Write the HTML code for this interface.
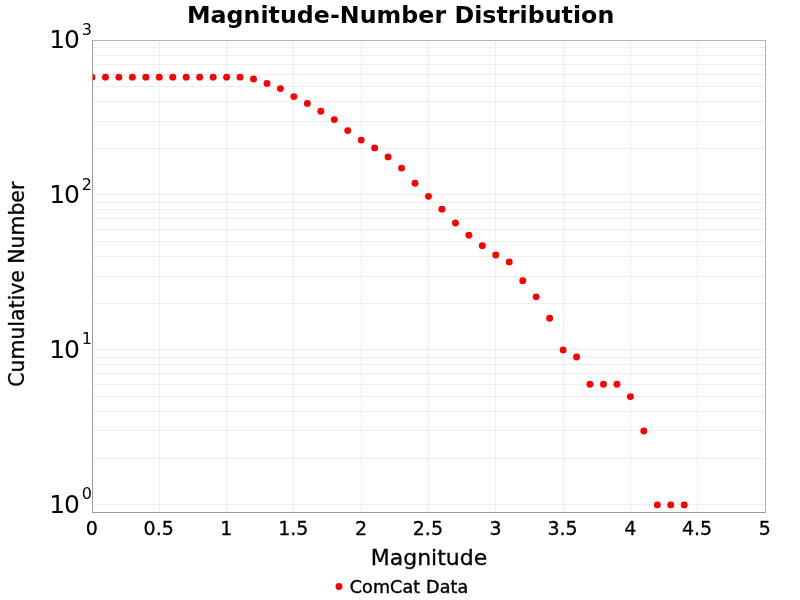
<!DOCTYPE html>
<html><head><meta charset="utf-8"><title>Magnitude-Number Distribution</title>
<style>
html,body{margin:0;padding:0;background:#fff;}
body{width:800px;height:600px;overflow:hidden;}
svg{display:block;}
text{font-family:"DejaVu Sans","Liberation Sans",sans-serif;fill:#000;stroke:#000;stroke-width:0.3px;}
.g line{stroke:#eeeeee;stroke-width:1;}
.xt text{font-size:19px;text-anchor:middle;}
.yt text{font-size:25px;text-anchor:end;stroke:none;}
.yt .e{font-size:16px;}
.d circle{fill:#ff0000;}
</style></head><body>
<svg width="800" height="600" viewBox="0 0 800 600">
<rect x="0" y="0" width="800" height="600" fill="#ffffff"/>
<defs><clipPath id="pc"><rect x="92" y="40" width="674" height="473"/></clipPath></defs>

<g class="g">
<line x1="159.5" y1="41" x2="159.5" y2="512"/>
<line x1="226.5" y1="41" x2="226.5" y2="512"/>
<line x1="293.5" y1="41" x2="293.5" y2="512"/>
<line x1="361.5" y1="41" x2="361.5" y2="512"/>
<line x1="428.5" y1="41" x2="428.5" y2="512"/>
<line x1="495.5" y1="41" x2="495.5" y2="512"/>
<line x1="563.5" y1="41" x2="563.5" y2="512"/>
<line x1="630.5" y1="41" x2="630.5" y2="512"/>
<line x1="697.5" y1="41" x2="697.5" y2="512"/>
<line x1="93" y1="504.5" x2="765" y2="504.5"/>
<line x1="93" y1="458.5" x2="765" y2="458.5"/>
<line x1="93" y1="430.5" x2="765" y2="430.5"/>
<line x1="93" y1="411.5" x2="765" y2="411.5"/>
<line x1="93" y1="396.5" x2="765" y2="396.5"/>
<line x1="93" y1="384.5" x2="765" y2="384.5"/>
<line x1="93" y1="373.5" x2="765" y2="373.5"/>
<line x1="93" y1="364.5" x2="765" y2="364.5"/>
<line x1="93" y1="357.5" x2="765" y2="357.5"/>
<line x1="93" y1="349.5" x2="765" y2="349.5"/>
<line x1="93" y1="303.5" x2="765" y2="303.5"/>
<line x1="93" y1="276.5" x2="765" y2="276.5"/>
<line x1="93" y1="256.5" x2="765" y2="256.5"/>
<line x1="93" y1="241.5" x2="765" y2="241.5"/>
<line x1="93" y1="229.5" x2="765" y2="229.5"/>
<line x1="93" y1="218.5" x2="765" y2="218.5"/>
<line x1="93" y1="209.5" x2="765" y2="209.5"/>
<line x1="93" y1="202.5" x2="765" y2="202.5"/>
<line x1="93" y1="194.5" x2="765" y2="194.5"/>
<line x1="93" y1="148.5" x2="765" y2="148.5"/>
<line x1="93" y1="121.5" x2="765" y2="121.5"/>
<line x1="93" y1="101.5" x2="765" y2="101.5"/>
<line x1="93" y1="86.5" x2="765" y2="86.5"/>
<line x1="93" y1="74.5" x2="765" y2="74.5"/>
<line x1="93" y1="64.5" x2="765" y2="64.5"/>
<line x1="93" y1="55.5" x2="765" y2="55.5"/>
<line x1="93" y1="47.5" x2="765" y2="47.5"/>
</g>
<g class="d" clip-path="url(#pc)">
<circle cx="92.00" cy="77.15" r="3.45"/>
<circle cx="105.46" cy="77.15" r="3.45"/>
<circle cx="118.92" cy="77.15" r="3.45"/>
<circle cx="132.38" cy="77.15" r="3.45"/>
<circle cx="145.84" cy="77.15" r="3.45"/>
<circle cx="159.30" cy="77.15" r="3.45"/>
<circle cx="172.76" cy="77.15" r="3.45"/>
<circle cx="186.22" cy="77.15" r="3.45"/>
<circle cx="199.68" cy="77.15" r="3.45"/>
<circle cx="213.14" cy="77.15" r="3.45"/>
<circle cx="226.60" cy="77.15" r="3.45"/>
<circle cx="240.06" cy="77.15" r="3.45"/>
<circle cx="253.52" cy="79.00" r="3.45"/>
<circle cx="266.98" cy="83.40" r="3.45"/>
<circle cx="280.44" cy="88.60" r="3.45"/>
<circle cx="293.90" cy="96.60" r="3.45"/>
<circle cx="307.36" cy="103.40" r="3.45"/>
<circle cx="320.82" cy="111.25" r="3.45"/>
<circle cx="334.28" cy="119.60" r="3.45"/>
<circle cx="347.74" cy="130.60" r="3.45"/>
<circle cx="361.20" cy="140.10" r="3.45"/>
<circle cx="374.66" cy="147.90" r="3.45"/>
<circle cx="388.12" cy="156.90" r="3.45"/>
<circle cx="401.58" cy="168.10" r="3.45"/>
<circle cx="415.04" cy="183.26" r="3.45"/>
<circle cx="428.50" cy="196.33" r="3.45"/>
<circle cx="441.96" cy="209.15" r="3.45"/>
<circle cx="455.42" cy="222.93" r="3.45"/>
<circle cx="468.88" cy="235.21" r="3.45"/>
<circle cx="482.34" cy="245.78" r="3.45"/>
<circle cx="495.80" cy="254.98" r="3.45"/>
<circle cx="509.26" cy="261.89" r="3.45"/>
<circle cx="522.72" cy="280.64" r="3.45"/>
<circle cx="536.18" cy="296.87" r="3.45"/>
<circle cx="549.64" cy="318.31" r="3.45"/>
<circle cx="563.10" cy="349.94" r="3.45"/>
<circle cx="576.56" cy="357.03" r="3.45"/>
<circle cx="590.02" cy="384.32" r="3.45"/>
<circle cx="603.48" cy="384.32" r="3.45"/>
<circle cx="616.94" cy="384.32" r="3.45"/>
<circle cx="630.40" cy="396.59" r="3.45"/>
<circle cx="643.86" cy="430.97" r="3.45"/>
<circle cx="657.32" cy="504.91" r="3.45"/>
<circle cx="670.78" cy="504.91" r="3.45"/>
<circle cx="684.24" cy="504.91" r="3.45"/>
</g>
<rect x="92" y="40" width="674" height="1" fill="#b4b4b4"/><rect x="765" y="40" width="1" height="473" fill="#b4b4b4"/>
<rect x="92" y="40" width="1" height="473" fill="#9c9c9c"/><rect x="92" y="512" width="674" height="1" fill="#9c9c9c"/>
<g class="xt">
<text x="91.80" y="535.3">0</text>
<text x="158.70" y="535.3">0.5</text>
<text x="226.40" y="535.3">1</text>
<text x="293.30" y="535.3">1.5</text>
<text x="361.00" y="535.3">2</text>
<text x="427.90" y="535.3">2.5</text>
<text x="495.60" y="535.3">3</text>
<text x="562.50" y="535.3">3.5</text>
<text x="630.20" y="535.3">4</text>
<text x="697.10" y="535.3">4.5</text>
<text x="764.80" y="535.3">5</text>
</g>
<g class="yt">
<text x="49.2" y="513.01" text-anchor="start" textLength="30.7" lengthAdjust="spacing" style="text-anchor:start">10</text><text class="e" x="92" y="498.81">0</text>
<text x="49.2" y="358.04" text-anchor="start" textLength="30.7" lengthAdjust="spacing" style="text-anchor:start">10</text><text class="e" x="92" y="344.04">1</text>
<text x="49.2" y="203.07" text-anchor="start" textLength="30.7" lengthAdjust="spacing" style="text-anchor:start">10</text><text class="e" x="92" y="189.97">2</text>
<text x="49.2" y="48.10" text-anchor="start" textLength="30.7" lengthAdjust="spacing" style="text-anchor:start">10</text><text class="e" x="92" y="34.80">3</text>
</g>
<text x="400.6" y="22.9" text-anchor="middle" textLength="427.4" lengthAdjust="spacing" style="font-size:23.7px;font-weight:bold;stroke:none">Magnitude-Number Distribution</text>
<text x="429" y="564.6" text-anchor="middle" style="font-size:22px">Magnitude</text>
<text transform="translate(24,284.2) rotate(-90) scale(0.928,1)" text-anchor="middle" style="font-size:22px">Cumulative Number</text>
<circle cx="339" cy="586.5" r="3.45" fill="#ff0000"/>
<text x="349.7" y="592.7" textLength="118.6" lengthAdjust="spacing" style="font-size:17.5px;stroke-width:0.4px">ComCat Data</text>
</svg></body></html>
